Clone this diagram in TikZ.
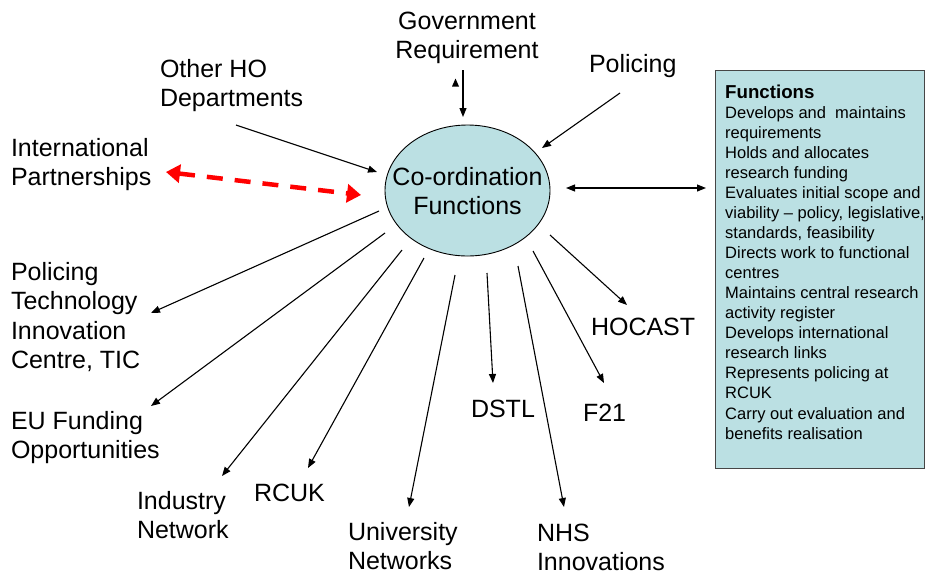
\documentclass[tikz,border=0pt]{standalone}
\usepackage{fontspec}
\setmainfont{Liberation Sans}
\usetikzlibrary{arrows.meta,shapes.geometric}
\definecolor{fillblue}{RGB}{187,224,227}
\definecolor{boxedge}{RGB}{70,70,70}
\definecolor{arrred}{RGB}{255,0,0}
\newcommand\fstrut{\rule{0pt}{20pt}}
\newcommand\bstrut{\rule{0pt}{14pt}}
\begin{document}
\begin{tikzpicture}[x=1pt,y=-1pt,
  lbl/.style={anchor=north west, inner sep=0pt, outer sep=0pt, align=left,
              font=\fontsize{25}{29.5}\selectfont},
  arr/.style={-{Triangle[length=9pt,width=7pt]}, line width=1.1pt, black},
  darr/.style={{Triangle[length=9pt,width=7pt]}-{Triangle[length=9pt,width=7pt]}, line width=1.1pt, black},
  redarr/.style={{Triangle[length=14pt,width=18pt]}-{Triangle[length=14pt,width=18pt]},
                 line width=4.5pt, arrred, dash pattern=on 16pt off 12pt},
  hub/.style={ellipse, draw=black, line width=0.9pt, fill=fillblue, inner sep=0pt,
              minimum width=165pt, minimum height=131pt},
  hubtext/.style={anchor=north, inner sep=0pt, align=center,
              font=\fontsize{25}{29}\selectfont},
  panel/.style={draw=boxedge, line width=1pt, fill=fillblue, anchor=north west,
                minimum width=209pt, minimum height=398pt, inner sep=0pt},
  paneltext/.style={anchor=north west, inner sep=0pt, align=left,
                    font=\fontsize{16.5}{20.05}\selectfont}
]
\useasboundingbox (0,0) rectangle (926,579);

% hub
\node[hub] (co) at (467.5,190.5) {};
\node[hubtext] (cot) at (467.5,165) {\fstrut Co-ordination\\Functions};

% functions panel
\node[panel] (fb) at (715,70) {};
\node[paneltext] (ft) at (725,84) {\bstrut{\fontsize{18.7}{20.05}\selectfont\textbf{Functions}}\\
Develops and\ \ maintains\\
requirements\\
Holds and allocates\\
research funding\\
Evaluates initial scope and\\
viability – policy, legislative,\\
standards, feasibility\\
Directs work to functional\\
centres\\
Maintains central research\\
activity register\\
Develops international\\
research links\\
Represents policing at\\
RCUK\\
Carry out evaluation and\\
benefits realisation};

% labels
\node[lbl, anchor=north, align=center] (gov) at (467,9) {\fstrut Government\\Requirement};
\node[lbl] (oho) at (160,57) {\fstrut Other HO\\Departments};
\node[lbl] (pol) at (589,52) {\fstrut Policing};
\node[lbl] (intl) at (11,136) {\fstrut International\\Partnerships};
\node[lbl] (tic) at (11,260) {\fstrut Policing\\Technology\\Innovation\\Centre, TIC};
\node[lbl] (eu) at (11,409) {\fstrut EU Funding\\Opportunities};
\node[lbl] (ind) at (137,489) {\fstrut Industry\\Network};
\node[lbl] (rcuk) at (254,481) {\fstrut RCUK};
\node[lbl] (uni) at (348,520) {\fstrut University\\Networks};
\node[lbl] (dstl) at (471,397) {\fstrut DSTL};
\node[lbl] (f21) at (583,401) {\fstrut F21};
\node[lbl] (hoc) at (591,315) {\fstrut HOCAST};
\node[lbl] (nhs) at (537,521) {\fstrut NHS\\Innovations};

% connector end points
\coordinate (gA) at (463,70);   \coordinate (gB) at (463,117);
\coordinate (oA) at (236,125);  \coordinate (oB) at (377,172);
\coordinate (pA) at (620,93);   \coordinate (pB) at (542,148);
\coordinate (rA) at (166,172);  \coordinate (rB) at (361,195);
\coordinate (bA) at (566,188);  \coordinate (bB) at (706,188);
\coordinate (s1) at (379,211);  \coordinate (t1) at (151,313);
\coordinate (s2) at (385,233);  \coordinate (t2) at (151,406);
\coordinate (s3) at (402,250);  \coordinate (t3) at (222,476);
\coordinate (s4) at (424,258);  \coordinate (t4) at (308,468);
\coordinate (s5) at (455,275);  \coordinate (t5) at (409,507);
\coordinate (s6) at (487,273);  \coordinate (t6) at (493,383);
\coordinate (s7) at (518,266);  \coordinate (t7) at (564,507);
\coordinate (s8) at (533,251);  \coordinate (t8) at (604,383);
\coordinate (s9) at (550,235);  \coordinate (t9) at (627,305);

% inbound
\draw[arr] (gA) -- (gB);
\fill[black] (452,86.5) -- (459,86.5) -- (455.5,78.5) -- cycle;
\draw[arr] (oA) -- (oB);
\draw[arr] (pA) -- (pB);
\draw[redarr] (rA) -- (rB);
\draw[darr] (bA) -- (bB);

% outbound
\foreach \i in {1,...,9} {\draw[arr] (s\i) -- (t\i);}
\end{tikzpicture}
\end{document}
